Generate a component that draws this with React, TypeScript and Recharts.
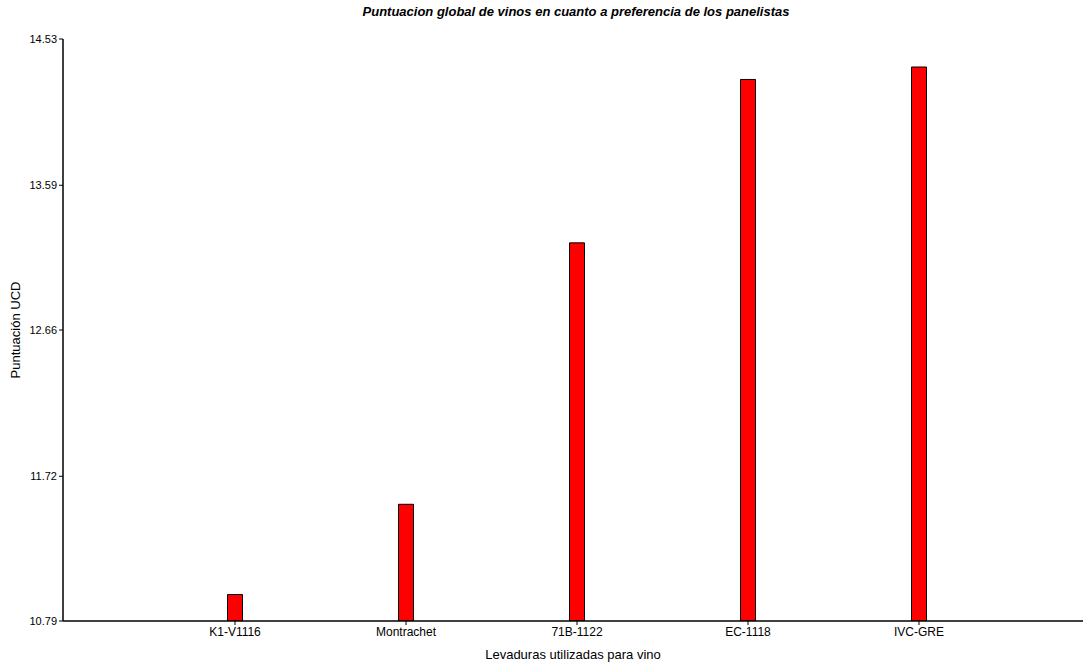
import React from 'react';
import { BarChart, Bar, XAxis, YAxis } from 'recharts';

const categories = ['K1-V1116', 'Montrachet', '71B-1122', 'EC-1118', 'IVC-GRE'];
const scores = [10.96, 11.54, 13.22, 14.27, 14.35];
const yTicks = [10.79, 11.72, 12.66, 13.59, 14.53];

const data = categories.map((c, i) => ({ name: c, value: scores[i] }));

const font = '"Liberation Sans", Arial, sans-serif';

export default function App() {
  return (
    <div style={{ position: 'absolute', left: 0, top: 0, width: 1085, height: 665, fontFamily: font, background: '#fff' }}>
      <div style={{ position: 'absolute', top: 4, left: 63, width: 1026, textAlign: 'center', fontSize: 13, lineHeight: '15px', fontWeight: 'bold', fontStyle: 'italic', fontFamily: font, color: '#000' }}>
        Puntuacion global de vinos en cuanto a preferencia de los panelistas
      </div>
      <BarChart width={1085} height={665} data={data} margin={{ top: 39, right: 2, left: 0, bottom: 0 }}>
        <XAxis
          dataKey="name"
          height={44}
          padding={{ left: 86.5, right: 78.5 }}
          tickSize={4}
          tick={{ fill: '#000', fontSize: 12, fontFamily: font }}
          axisLine={{ stroke: '#000', strokeWidth: 1.5 }}
          tickLine={{ stroke: '#000' }}
          label={{ value: 'Levaduras utilizadas para vino', position: 'insideBottom', offset: 6, fill: '#000', fontSize: 13, fontFamily: font }}
        />
        <YAxis
          width={63}
          domain={[10.79, 14.53]}
          ticks={yTicks}
          allowDataOverflow
          tickSize={4}
          tick={{ fill: '#000', fontSize: 11, fontFamily: font }}
          axisLine={{ stroke: '#000', strokeWidth: 1.5 }}
          tickLine={{ stroke: '#000' }}
          label={{ value: 'Puntuación UCD', angle: -90, position: 'insideLeft', offset: 15, fill: '#000', fontSize: 13, fontFamily: font, style: { textAnchor: 'middle' } }}
        />
        <Bar dataKey="value" fill="#ff0000" stroke="#000" strokeWidth={1} barSize={15} isAnimationActive={false} />
      </BarChart>
    </div>
  );
}
